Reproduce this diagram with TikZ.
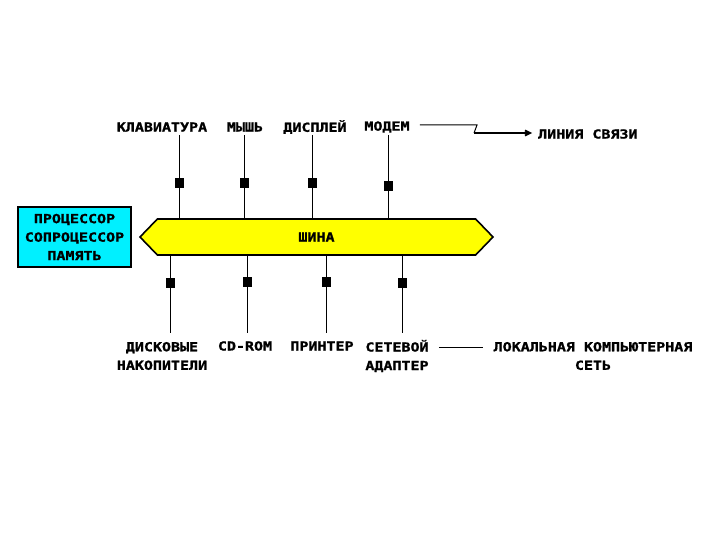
\documentclass[tikz,border=0pt]{standalone}
\usepackage{fontspec}
\newfontfamily\pixfont[FakeStretch=1.2, FakeBold=1.2]{DejaVu Sans Mono Bold}
\usetikzlibrary{positioning, arrows.meta, shapes.symbols, calc}
\definecolor{busyellow}{HTML}{FFFF00}
\definecolor{cpucyan}{HTML}{00F0FF}

\begin{document}
\begin{tikzpicture}[
    x=1pt, y=-1pt,
    font=\pixfont\fontsize{12.5}{18.5}\selectfont,
    lbl/.style={inner sep=2pt, align=center},
    port/.style={rectangle, fill=black, minimum width=9pt, minimum height=10pt, inner sep=0pt},
    bus/.style={
      signal, signal to=east and west, signal pointer angle=92,
      draw=black, line width=1.6pt, fill=busyellow,
      minimum width=353pt, minimum height=36pt, inner sep=0pt
    },
    cpu/.style={
      rectangle, draw=black, line width=2.2pt, fill=cpucyan,
      minimum width=113pt, minimum height=60pt, align=center, inner sep=2pt
    },
    wire/.style={line width=1pt},
    arr/.style={-{Straight Barb[length=5pt,width=5pt]}, line width=1.8pt}
  ]
  \useasboundingbox (0,0) rectangle (720,540);
  % Шина и процессор
  \node[bus] (bus) at (316.5,237) {ШИНА};
  \node[cpu] (cpu) at (74.5,237) {ПРОЦЕССОР\\СОПРОЦЕССОР\\ПАМЯТЬ};
  % Верхние устройства
  \node[lbl] (kbd)   at (162,127) {КЛАВИАТУРА};
  \node[lbl] (mouse) at (245,127) {МЫШЬ};
  \node[lbl] (disp)  at (315,127) {ДИСПЛЕЙ};
  \node[lbl] (modem) at (387,127) {МОДЕМ};
  \node[lbl, anchor=west] (link) at (536,134) {ЛИНИЯ СВЯЗИ};
  \node[port] (kbdP)   at (179.5,183) {};
  \node[port] (mouseP) at (244.5,183) {};
  \node[port] (dispP)  at (312.5,183) {};
  \node[port] (modemP) at (388.5,186) {};
  % Нижние устройства
  \node[lbl] (disk)  at (162,356) {ДИСКОВЫЕ\\НАКОПИТЕЛИ};
  \node[lbl] (cdrom) at (245,346) {CD-ROM};
  \node[lbl] (prn)   at (322,346) {ПРИНТЕР};
  \node[lbl] (net)   at (397,356) {СЕТЕВОЙ\\АДАПТЕР};
  \node[lbl] (lan)   at (593,356) {ЛОКАЛЬНАЯ КОМПЬЮТЕРНАЯ\\СЕТЬ};
  \node[port] (diskP)  at (170.5,283) {};
  \node[port] (cdromP) at (247.5,282) {};
  \node[port] (prnP)   at (326.5,282) {};
  \node[port] (netP)   at (402,283) {};
  % Подключения сверху
  \draw[wire] (kbdP |- 0,135) -- (kbdP) -- (kbdP |- bus.north);
  \draw[wire] (mouseP |- 0,135) -- (mouseP) -- (mouseP |- bus.north);
  \draw[line width=1.8pt] (dispP |- 0,135) -- (dispP) -- (dispP |- bus.north);
  \draw[wire] (modemP |- 0,135) -- (modemP) -- (modemP |- bus.north);
  % Подключения снизу
  \draw[wire] (diskP |- bus.south) -- (diskP) -- (diskP |- 0,333);
  \draw[wire] (cdromP |- bus.south) -- (cdromP) -- (cdromP |- 0,333);
  \draw[wire] (prnP |- bus.south) -- (prnP) -- (prnP |- 0,333);
  \draw[wire] (netP |- bus.south) -- (netP) -- (netP |- 0,333);
  % Внешние линии
  \coordinate (zz1) at (477,125);
  \coordinate (zz2) at (474,133);
  \draw[wire] ([xshift=8pt]modem.east |- zz1) -- (zz1) -- (zz2);
  \draw[arr] (zz2) -- ([xshift=-4pt]zz2 -| link.west);
  \draw[wire] ([xshift=8pt]net.east |- 0,347) -- ([xshift=-8pt]lan.west |- 0,347);
\end{tikzpicture}
\end{document}
